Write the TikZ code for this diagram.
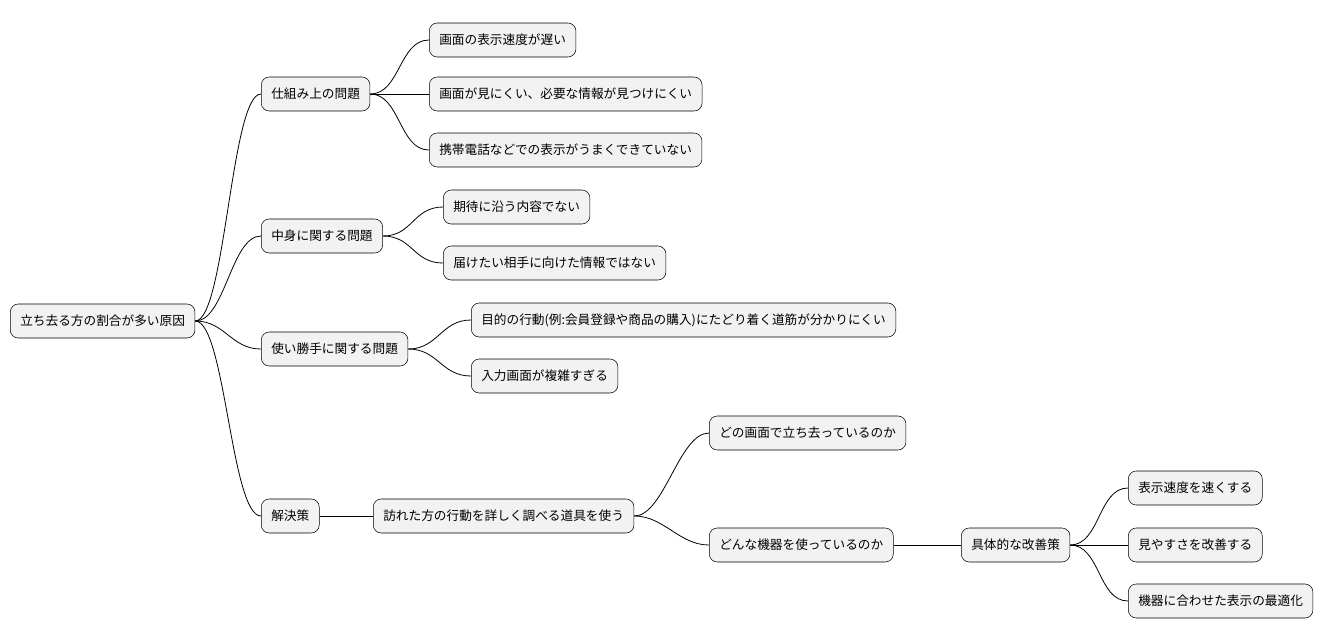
\documentclass[tikz,border=0pt]{standalone}
\usepackage{fontspec}
\setmainfont{Noto Sans CJK JP}
\usetikzlibrary{positioning}

\begin{document}
\begin{tikzpicture}[
    x=0.75pt, y=-0.75pt,
    idea/.style={draw=black, fill=gray!10, rounded corners=6pt, minimum height=25.5pt,
                 inner xsep=7.5pt, anchor=west, font=\fontsize{9.5pt}{11pt}\selectfont},
    branch/.style={draw=black, line width=0.6pt}
]
\useasboundingbox (0,0) rectangle (1342,640);

% Root
\node[idea] (root) at (10,321) {立ち去る方の割合が多い原因};

% First level
\node[idea] (sys) at (261,94) {仕組み上の問題};
\node[idea] (cont) at (261,236) {中身に関する問題};
\node[idea] (use) at (261,349) {使い勝手に関する問題};
\node[idea] (sol) at (261,516) {解決策};

% Second level
\node[idea] (s1) at (429,40) {画面の表示速度が遅い};
\node[idea] (s2) at (429,94) {画面が見にくい、必要な情報が見つけにくい};
\node[idea] (s3) at (429,150) {携帯電話などでの表示がうまくできていない};
\node[idea] (c1) at (443,207) {期待に沿う内容でない};
\node[idea] (c2) at (443,263) {届けたい相手に向けた情報ではない};
\node[idea] (u1) at (471,320) {目的の行動(例:会員登録や商品の購入)にたどり着く道筋が分かりにくい};
\node[idea] (u2) at (471,376) {入力画面が複雑すぎる};
\node[idea] (tool) at (373,516) {訪れた方の行動を詳しく調べる道具を使う};

% Third level
\node[idea] (t1) at (709,433) {どの画面で立ち去っているのか};
\node[idea] (t2) at (709,545) {どんな機器を使っているのか};
\node[idea] (plan) at (961,545) {具体的な改善策};

% Leaves
\node[idea] (p1) at (1128,488) {表示速度を速くする};
\node[idea] (p2) at (1128,545) {見やすさを改善する};
\node[idea] (p3) at (1128,601) {機器に合わせた表示の最適化};

% Connectors
\foreach \a/\b in {root/sys, root/cont, root/use, root/sol,
                   sys/s1, sys/s2, sys/s3, cont/c1, cont/c2, use/u1, use/u2,
                   sol/tool, tool/t1, tool/t2, t2/plan, plan/p1, plan/p2, plan/p3}
  \draw[branch] (\a.east) .. controls +(30,0) and +(-30,0) .. (\b.west);

\end{tikzpicture}
\end{document}
